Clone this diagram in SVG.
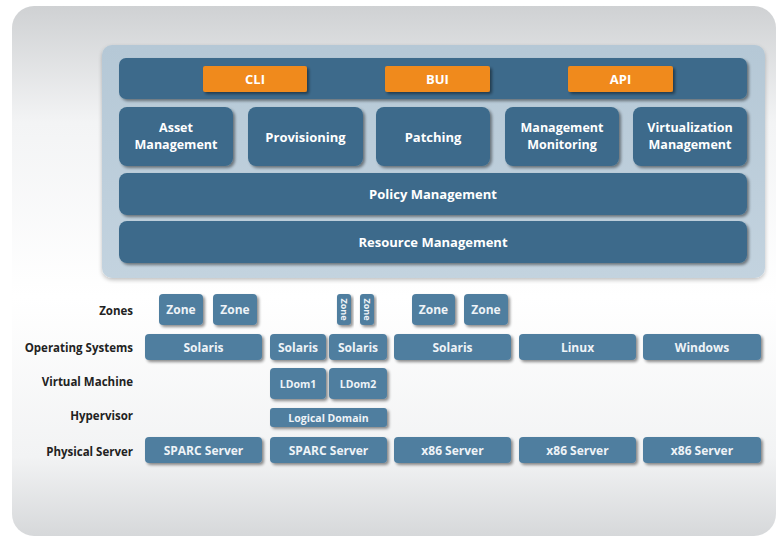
<svg xmlns="http://www.w3.org/2000/svg" width="780" height="539" viewBox="0 0 780 539">
  <defs>
    <linearGradient id="bg" x1="0" y1="0" x2="0" y2="1">
      <stop offset="0" stop-color="#cfd1d3"/>
      <stop offset="0.22" stop-color="#f3f4f5"/>
      <stop offset="0.55" stop-color="#ffffff"/>
      <stop offset="0.85" stop-color="#f2f3f4"/>
      <stop offset="1" stop-color="#d6d8da"/>
    </linearGradient>
    <linearGradient id="panel" x1="0" y1="0" x2="0" y2="1">
      <stop offset="0" stop-color="#b5c8d6"/>
      <stop offset="1" stop-color="#c3d3df"/>
    </linearGradient>
    <filter id="shadow" x="-10%" y="-20%" width="125%" height="150%">
      <feGaussianBlur in="SourceAlpha" stdDeviation="1.6"/>
      <feOffset dx="1.5" dy="2" result="b"/>
      <feComponentTransfer><feFuncA type="linear" slope="0.45"/></feComponentTransfer>
      <feMerge><feMergeNode/><feMergeNode in="SourceGraphic"/></feMerge>
    </filter>
    <filter id="soft" x="-5%" y="-5%" width="110%" height="115%">
      <feGaussianBlur in="SourceAlpha" stdDeviation="2"/>
      <feOffset dx="0" dy="2"/>
      <feComponentTransfer><feFuncA type="linear" slope="0.25"/></feComponentTransfer>
      <feMerge><feMergeNode/><feMergeNode in="SourceGraphic"/></feMerge>
    </filter>
  </defs>
  <style>
    .dark { fill: #3c6a8b; filter: url(#shadow); }
    .steel { fill: #4f7e9f; filter: url(#shadow); }
    .orange { fill: #f08a1c; filter: url(#shadow); }
    text { font-family: "Open Sans", "Noto Sans", "Liberation Sans", sans-serif; font-weight: bold; }
    .t { fill: #ffffff; font-size: 13px; text-anchor: middle; dominant-baseline: central; }
    .t2 { fill: #ffffff; font-size: 12.5px; text-anchor: middle; }
    .s { fill: #eef3f7; font-size: 12px; text-anchor: middle; dominant-baseline: central; }
    .xs { fill: #eef3f7; font-size: 10.5px; text-anchor: middle; dominant-baseline: central; }
    .v { fill: #eef3f7; font-size: 9px; text-anchor: middle; dominant-baseline: central; }
    .lbl { fill: #222222; font-size: 11.5px; text-anchor: end; dominant-baseline: central; }
  </style>

  <!-- page background -->
  <rect x="12" y="6" width="764" height="530" rx="22" fill="url(#bg)"/>

  <!-- management stack panel -->
  <rect x="102" y="45" width="663" height="233" rx="10" fill="url(#panel)" filter="url(#soft)"/>

  <g id="interfaces">
    <rect class="dark" x="119" y="58" width="628" height="41" rx="7"/>
    <g id="cli"><rect class="orange" x="203" y="66" width="104" height="26" rx="2"/><text class="t" x="255" y="79">CLI</text></g>
    <g id="bui"><rect class="orange" x="385" y="66" width="105" height="26" rx="2"/><text class="t" x="437.5" y="79">BUI</text></g>
    <g id="api"><rect class="orange" x="568" y="66" width="105" height="26" rx="2"/><text class="t" x="620.5" y="79">API</text></g>
  </g>

  <g id="asset-management">
    <rect class="dark" x="119" y="107" width="114" height="59" rx="8"/>
    <text class="t2" x="176" y="132">Asset</text>
    <text class="t2" x="176" y="149">Management</text>
  </g>
  <g id="provisioning">
    <rect class="dark" x="248" y="107" width="115" height="59" rx="8"/>
    <text class="t" x="305.5" y="136.5">Provisioning</text>
  </g>
  <g id="patching">
    <rect class="dark" x="376" y="107" width="114" height="59" rx="8"/>
    <text class="t" x="433" y="136.5">Patching</text>
  </g>
  <g id="management-monitoring">
    <rect class="dark" x="505" y="107" width="114" height="59" rx="8"/>
    <text class="t2" x="562" y="132">Management</text>
    <text class="t2" x="562" y="149">Monitoring</text>
  </g>
  <g id="virtualization-management">
    <rect class="dark" x="633" y="107" width="114" height="59" rx="8"/>
    <text class="t2" x="690" y="132">Virtualization</text>
    <text class="t2" x="690" y="149">Management</text>
  </g>
  <g id="policy-management">
    <rect class="dark" x="119" y="173" width="628" height="42" rx="8"/>
    <text class="t" x="433" y="194">Policy Management</text>
  </g>
  <g id="resource-management">
    <rect class="dark" x="119" y="221" width="628" height="42" rx="8"/>
    <text class="t" x="433" y="242">Resource Management</text>
  </g>

  <!-- layer labels -->
  <g id="labels">
    <text class="lbl" x="133" y="310">Zones</text>
    <text class="lbl" x="133" y="347">Operating Systems</text>
    <text class="lbl" x="133" y="381">Virtual Machine</text>
    <text class="lbl" x="133" y="415">Hypervisor</text>
    <text class="lbl" x="133" y="451">Physical Server</text>
  </g>

  <!-- column 1: SPARC with zones -->
  <g id="zone-1"><rect class="steel" x="159" y="294" width="44" height="31" rx="4"/><text class="s" x="181" y="309.5">Zone</text></g>
  <g id="zone-2"><rect class="steel" x="213" y="294" width="44" height="31" rx="4"/><text class="s" x="235" y="309.5">Zone</text></g>
  <g id="solaris-1"><rect class="steel" x="145" y="334" width="117" height="26" rx="4"/><text class="s" x="203.5" y="347">Solaris</text></g>
  <g id="sparc-1"><rect class="steel" x="145" y="437" width="117" height="26" rx="4"/><text class="s" x="203.5" y="450">SPARC Server</text></g>

  <!-- column 2: SPARC with logical domains -->
  <g id="zone-3"><rect class="steel" x="337" y="294" width="14" height="31" rx="3"/><text class="v" transform="translate(344 309.5) rotate(90)">Zone</text></g>
  <g id="zone-4"><rect class="steel" x="360" y="294" width="14" height="31" rx="3"/><text class="v" transform="translate(367 309.5) rotate(90)">Zone</text></g>
  <g id="solaris-2"><rect class="steel" x="270" y="334" width="56" height="26" rx="4"/><text class="s" x="298" y="347">Solaris</text></g>
  <g id="solaris-3"><rect class="steel" x="329" y="334" width="58" height="26" rx="4"/><text class="s" x="358" y="347">Solaris</text></g>
  <g id="ldom-1"><rect class="steel" x="270" y="368" width="56" height="31" rx="4"/><text class="xs" x="298" y="383.5">LDom1</text></g>
  <g id="ldom-2"><rect class="steel" x="329" y="368" width="58" height="31" rx="4"/><text class="xs" x="358" y="383.5">LDom2</text></g>
  <g id="logical-domain"><rect class="steel" x="270" y="408" width="117" height="19" rx="3"/><text class="xs" x="328.5" y="417.5">Logical Domain</text></g>
  <g id="sparc-2"><rect class="steel" x="270" y="437" width="117" height="26" rx="4"/><text class="s" x="328.5" y="450">SPARC Server</text></g>

  <!-- column 3: x86 with zones -->
  <g id="zone-5"><rect class="steel" x="412" y="294" width="43" height="31" rx="4"/><text class="s" x="433.5" y="309.5">Zone</text></g>
  <g id="zone-6"><rect class="steel" x="464" y="294" width="44" height="31" rx="4"/><text class="s" x="486" y="309.5">Zone</text></g>
  <g id="solaris-4"><rect class="steel" x="394" y="334" width="117" height="26" rx="4"/><text class="s" x="452.5" y="347">Solaris</text></g>
  <g id="x86-1"><rect class="steel" x="394" y="437" width="117" height="26" rx="4"/><text class="s" x="452.5" y="450">x86 Server</text></g>

  <!-- column 4: Linux -->
  <g id="linux"><rect class="steel" x="519" y="334" width="117" height="26" rx="4"/><text class="s" x="577.5" y="347">Linux</text></g>
  <g id="x86-2"><rect class="steel" x="519" y="437" width="117" height="26" rx="4"/><text class="s" x="577.5" y="450">x86 Server</text></g>

  <!-- column 5: Windows -->
  <g id="windows"><rect class="steel" x="643" y="334" width="118" height="26" rx="4"/><text class="s" x="702" y="347">Windows</text></g>
  <g id="x86-3"><rect class="steel" x="643" y="437" width="118" height="26" rx="4"/><text class="s" x="702" y="450">x86 Server</text></g>

  <g id="connectors"/>
</svg>
